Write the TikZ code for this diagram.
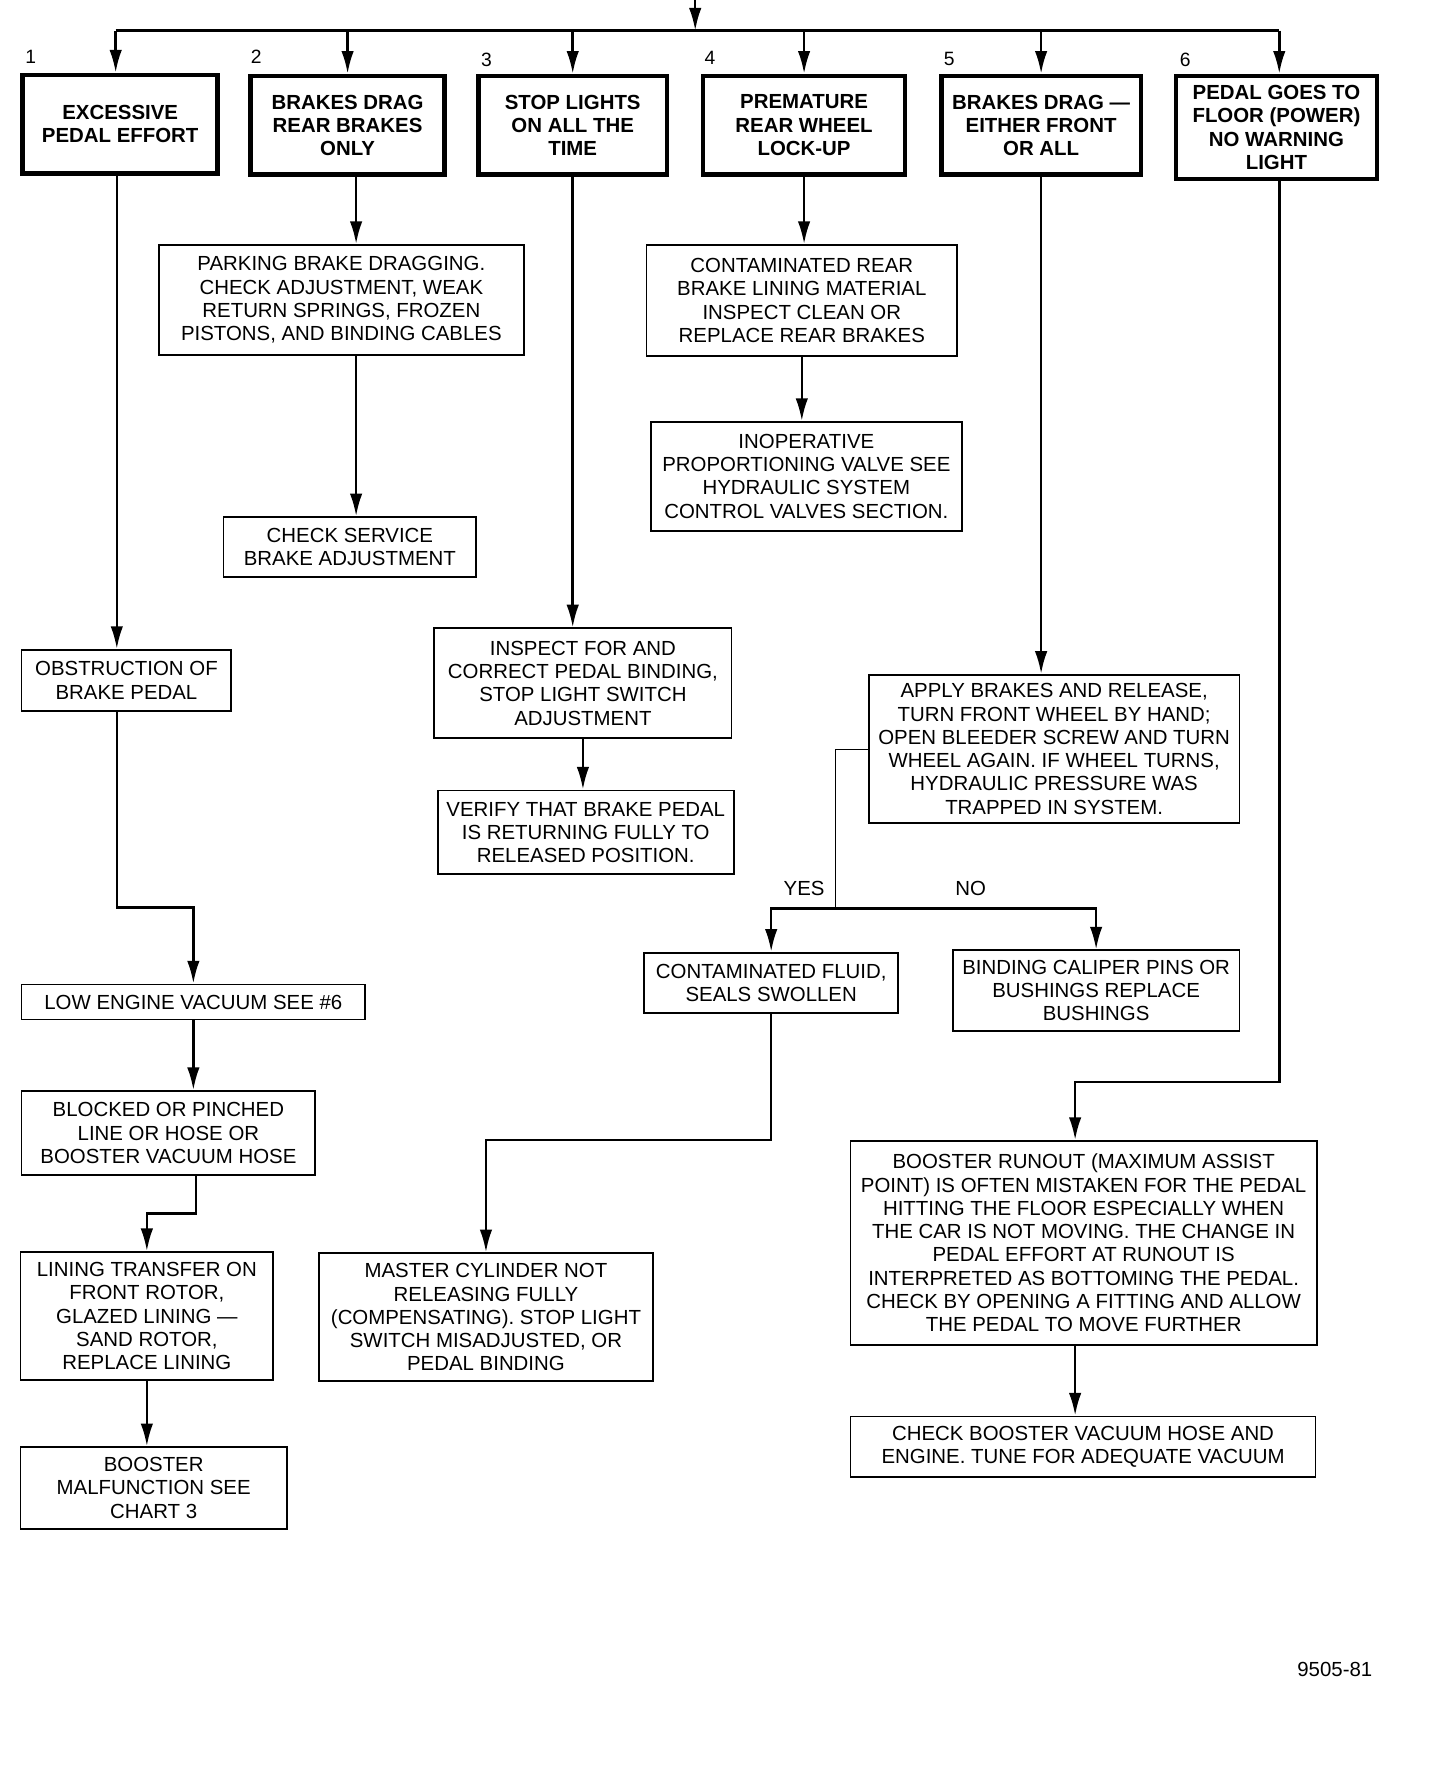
\documentclass[tikz,border=0pt]{standalone}
\usepackage{fontspec}
\setmainfont{Liberation Sans}
\usetikzlibrary{arrows.meta}
\definecolor{chartink}{RGB}{0, 0, 0}

\begin{document}
\begin{tikzpicture}[x=1pt, y=-1pt,
  box/.style={draw=chartink, line width=1.6pt, align=center, inner sep=2pt, font=\fontsize{18}{20.5}\selectfont},
  topbox/.style={box, line width=4pt, font=\fontsize{18}{20.5}\selectfont\bfseries},
  link/.style={draw=chartink, line width=2.2pt},
  arr/.style={link, -{Latex[length=20pt, width=11pt]}},
  tag/.style={inner sep=0pt, font=\fontsize{17}{17}\selectfont}]
\useasboundingbox (0,0) rectangle (1270,1566);

% symptoms
\node[topbox, minimum width=172pt, minimum height=87pt] (b1) at (106,109.5) {EXCESSIVE\\PEDAL EFFORT};
\node[topbox, minimum width=171pt, minimum height=87pt] (b2) at (306.5,110.5) {BRAKES DRAG\\REAR BRAKES\\ONLY};
\node[topbox, minimum width=166pt, minimum height=87pt] (b3) at (505,110.5) {STOP LIGHTS\\ON ALL THE\\TIME};
\node[topbox, minimum width=178pt, minimum height=87pt] (b4) at (709,110.5) {PREMATURE\\REAR WHEEL\\LOCK-UP};
\node[topbox, minimum width=176pt, minimum height=87pt] (b5) at (918,110.5) {BRAKES DRAG ---\\EITHER FRONT\\OR ALL};
\node[topbox, minimum width=177pt, minimum height=91pt] (b6) at (1125.5,112.5) {PEDAL GOES TO\\FLOOR (POWER)\\NO WARNING\\LIGHT};

\node[tag] (n1) at (27,50) {1};
\node[tag] (n2) at (226,50) {2};
\node[tag] (n3) at (429,53) {3};
\node[tag] (n4) at (626,51) {4};
\node[tag] (n5) at (837,52) {5};
\node[tag] (n6) at (1045,53) {6};

% column 1
\node[box, minimum width=185pt, minimum height=54pt] (obst) at (111.5,600) {OBSTRUCTION OF\\BRAKE PEDAL};
\node[box, minimum width=303pt, minimum height=31pt] (lowvac) at (170.5,883.5) {LOW ENGINE VACUUM SEE \#6};
\node[box, minimum width=259pt, minimum height=74pt] (blocked) at (148.5,999) {BLOCKED OR PINCHED\\LINE OR HOSE OR\\BOOSTER VACUUM HOSE};
\node[box, minimum width=223pt, minimum height=113pt] (lining) at (129.5,1160.5) {LINING TRANSFER ON\\FRONT ROTOR,\\GLAZED LINING ---\\SAND ROTOR,\\REPLACE LINING};
\node[box, minimum width=235pt, minimum height=72pt] (booster) at (135.5,1312) {BOOSTER\\MALFUNCTION SEE\\CHART 3};

% column 2
\node[box, minimum width=322pt, minimum height=97pt] (park) at (301,264.5) {PARKING BRAKE DRAGGING.\\CHECK ADJUSTMENT, WEAK\\RETURN SPRINGS, FROZEN\\PISTONS, AND BINDING CABLES};
\node[box, minimum width=223pt, minimum height=53pt] (chksvc) at (308.5,482.5) {CHECK SERVICE\\BRAKE ADJUSTMENT};

% column 3
\node[box, minimum width=262pt, minimum height=97pt] (inspect) at (514,602.5) {INSPECT FOR AND\\CORRECT PEDAL BINDING,\\STOP LIGHT SWITCH\\ADJUSTMENT};
\node[box, minimum width=261pt, minimum height=74pt] (verify) at (516.5,734) {VERIFY THAT BRAKE PEDAL\\IS RETURNING FULLY TO\\RELEASED POSITION.};

% column 4
\node[box, minimum width=274pt, minimum height=98pt] (contam) at (707,265) {CONTAMINATED REAR\\BRAKE LINING MATERIAL\\INSPECT CLEAN OR\\REPLACE REAR BRAKES};
\node[box, minimum width=274pt, minimum height=96pt] (inop) at (711,420) {INOPERATIVE\\PROPORTIONING VALVE SEE\\HYDRAULIC SYSTEM\\CONTROL VALVES SECTION.};

% column 5
\node[box, minimum width=327pt, minimum height=131pt] (apply) at (929.5,660.5) {APPLY BRAKES AND RELEASE,\\TURN FRONT WHEEL BY HAND;\\OPEN BLEEDER SCREW AND TURN\\WHEEL AGAIN. IF WHEEL TURNS,\\HYDRAULIC PRESSURE WAS\\TRAPPED IN SYSTEM.};
\node[box, minimum width=224pt, minimum height=53pt] (fluid) at (680,866.5) {CONTAMINATED FLUID,\\SEALS SWOLLEN};
\node[box, minimum width=253pt, minimum height=71pt] (caliper) at (966.5,873.5) {BINDING CALIPER PINS OR\\BUSHINGS REPLACE\\BUSHINGS};
\node[box, minimum width=295pt, minimum height=113pt] (master) at (428.5,1161.5) {MASTER CYLINDER NOT\\RELEASING FULLY\\(COMPENSATING). STOP LIGHT\\SWITCH MISADJUSTED, OR\\PEDAL BINDING};
\node[tag, font=\fontsize{18}{18}\selectfont] (yes) at (709,783) {YES};
\node[tag, font=\fontsize{18}{18}\selectfont] (no) at (856,783) {NO};

% column 6
\node[box, minimum width=411pt, minimum height=180pt] (runout) at (955.5,1096) {BOOSTER RUNOUT (MAXIMUM ASSIST\\POINT) IS OFTEN MISTAKEN FOR THE PEDAL\\HITTING THE FLOOR ESPECIALLY WHEN\\THE CAR IS NOT MOVING. THE CHANGE IN\\PEDAL EFFORT AT RUNOUT IS\\INTERPRETED AS BOTTOMING THE PEDAL.\\CHECK BY OPENING A FITTING AND ALLOW\\THE PEDAL TO MOVE FURTHER};
\node[box, minimum width=410pt, minimum height=53pt] (tune) at (955,1275.5) {CHECK BOOSTER VACUUM HOSE AND\\ENGINE. TUNE FOR ADEQUATE VACUUM};

\node[tag, font=\fontsize{18}{18}\selectfont] (fig) at (1177,1472) {9505-81};

% feed and bus
\coordinate (feed) at (613,0);
\coordinate (bus) at (613,27);
\coordinate (busl) at (102,27);
\coordinate (busr) at (1128,27);
\draw[arr] (feed) -- (bus);
\draw[link] (busl) -- (busr);
\draw[arr] (busl) -- (busl |- b1.north);
\foreach \n in {2,...,5}
  \draw[arr] (b\n.north |- bus) -- (b\n.north);
\draw[arr] (busr) -- (busr |- b6.north);

% bends
\coordinate (c1a) at (103,800);
\coordinate (c1b) at (173,1070);
\coordinate (c2) at (314,185);
\coordinate (fork) at (737,801);
\coordinate (c5) at (680,1005);
\coordinate (c6) at (948,954);

\draw[arr] (b1.south -| c1a) -- (obst.north -| c1a);
\draw[arr] (obst.south -| c1a) -- (c1a) -| (lowvac.north);
\draw[arr] (lowvac.south) -- (lowvac.south |- blocked.north);
\draw[arr] (blocked.south -| c1b) -- (c1b) -| (lining.north);
\draw[arr] (lining.south) -- (lining.south |- booster.north);

\draw[arr] (b2.south -| c2) -- (park.north -| c2);
\draw[arr] (park.south -| c2) -- (chksvc.north -| c2);

\draw[arr] (b3.south) -- (b3.south |- inspect.north);
\draw[arr] (inspect.south) -- (inspect.south |- verify.north);

\draw[arr] (b4.south) -- (b4.south |- contam.north);
\draw[arr] (contam.south) -- (contam.south |- inop.north);

\draw[arr] (b5.south) -- (b5.south |- apply.north);
\draw[link, line width=1pt] (apply.west) -| (fork);
\draw[arr] (fork) -| (fluid.north);
\draw[arr] (fork) -| (caliper.north);
\draw[arr] (fluid.south) -- (c5) -| (master.north);

\draw[arr] (b6.south -| busr) |- (c6) -- (c6 |- runout.north);
\draw[arr] (runout.south -| c6) -- (tune.north -| c6);
\end{tikzpicture}
\end{document}
